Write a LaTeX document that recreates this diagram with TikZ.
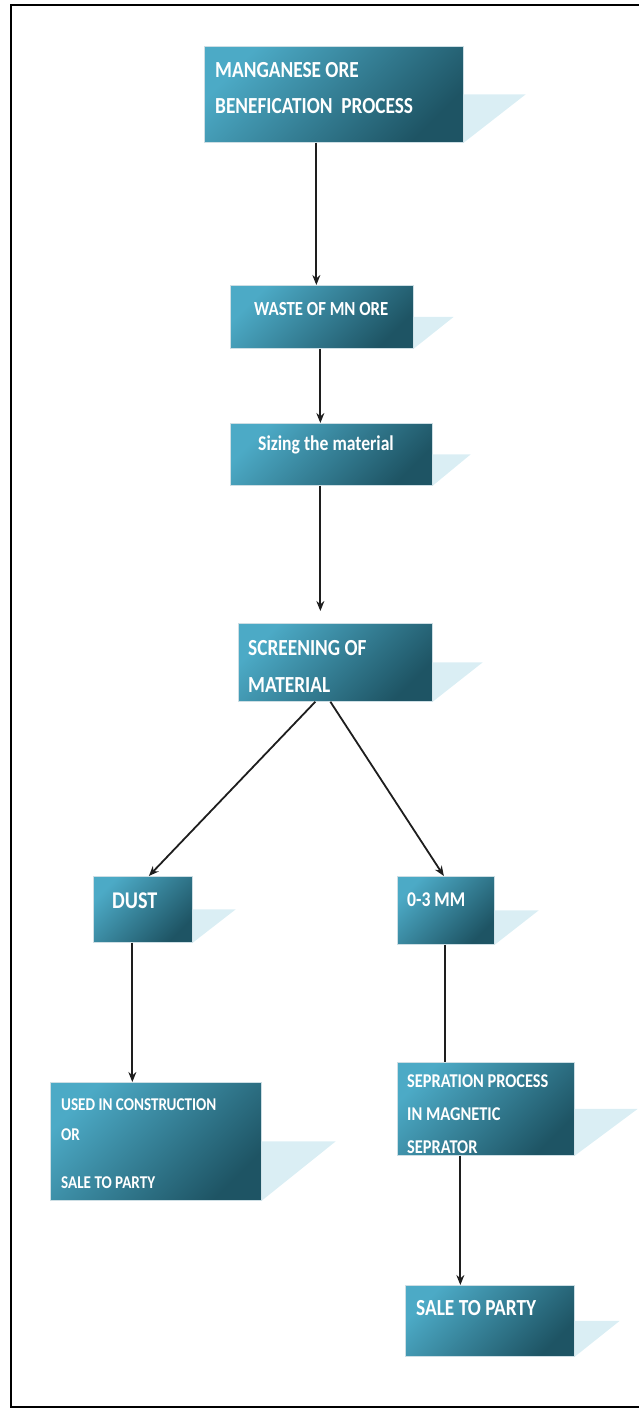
\documentclass[tikz,border=0pt]{standalone}
\usepackage{fontspec}
\usetikzlibrary{arrows.meta}
\newfontfamily\boxfont{Carlito}[FakeStretch=0.84]
\definecolor{boxlight}{RGB}{76,170,198}
\definecolor{boxdark}{RGB}{30,84,100}
\definecolor{boxedge}{RGB}{205,222,228}
\definecolor{shadowblue}{RGB}{218,238,244}
\definecolor{arrowgray}{RGB}{30,30,30}
\tikzset{
  procbox/.style={rectangle, draw=boxedge, line width=0.7pt, top color=boxlight, bottom color=boxdark, shading angle=45, anchor=north west, inner sep=0pt},
  boxtext/.style={text=white, anchor=base west, inner sep=0pt, align=left},
  flow/.style={-{Stealth[length=10pt,width=8pt]}, line width=1.8pt, draw=arrowgray},
  plainflow/.style={line width=1.8pt, draw=arrowgray}
}
\newcommand{\boxshadow}[2]{\fill[shadowblue] (#1.east) -- ++(#2,0) -- (#1.south east) -- cycle;}

\begin{document}
\begin{tikzpicture}[x=1pt,y=-1pt]
\useasboundingbox (0,0) rectangle (639,1408);
\draw[line width=1.4pt] (11,5) rectangle (645,1407);

% boxes
\node[procbox, minimum width=259pt, minimum height=96pt] (b1) at (204,46) {};
\node[procbox, minimum width=183pt, minimum height=63pt] (b2) at (230,285) {};
\node[procbox, minimum width=202pt, minimum height=62pt] (b3) at (230,423) {};
\node[procbox, minimum width=194pt, minimum height=78pt] (b4) at (238,623) {};
\node[procbox, minimum width=99pt, minimum height=66pt] (b5) at (93,876) {};
\node[procbox, minimum width=97pt, minimum height=68pt] (b6) at (397,876) {};
\node[procbox, minimum width=211pt, minimum height=118pt] (b7) at (50,1082) {};
\node[procbox, minimum width=177pt, minimum height=93pt] (b8) at (397,1062) {};
\node[procbox, minimum width=169pt, minimum height=71pt] (b9) at (405,1285) {};

\boxshadow{b1}{62}
\boxshadow{b2}{40}
\boxshadow{b3}{38}
\boxshadow{b4}{50}
\boxshadow{b5}{43}
\boxshadow{b6}{44}
\boxshadow{b7}{74}
\boxshadow{b8}{63}
\boxshadow{b9}{45}

% texts (base = last line)
\node[boxtext, font=\boxfont\bfseries\fontsize{23}{36}\selectfont] (t1) at (215,113) {MANGANESE ORE\\BENEFICATION~~PROCESS};
\node[boxtext, font=\boxfont\bfseries\fontsize{20}{24}\selectfont] (t2) at (254,315) {WASTE OF MN ORE};
\node[boxtext, font=\boxfont\bfseries\fontsize{21}{24}\selectfont] (t3) at (258,450) {Sizing the material};
\node[boxtext, font=\boxfont\bfseries\fontsize{23}{37}\selectfont] (t4) at (248,692) {SCREENING OF\\MATERIAL};
\node[boxtext, font=\boxfont\bfseries\fontsize{24}{24}\selectfont] (t5) at (112,908) {DUST};
\node[boxtext, font=\boxfont\bfseries\fontsize{21}{24}\selectfont] (t6) at (407,906) {0-3 MM};
\node[boxtext, font=\boxfont\bfseries\fontsize{18}{30}\selectfont] (t7) at (61,1188) {USED IN CONSTRUCTION\\OR\\[18pt]SALE TO PARTY};
\node[boxtext, font=\boxfont\bfseries\fontsize{19.5}{33}\selectfont] (t8) at (407,1153) {SEPRATION PROCESS\\IN MAGNETIC\\SEPRATOR};
\node[boxtext, font=\boxfont\bfseries\fontsize{23}{24}\selectfont] (t9) at (416,1315) {SALE TO PARTY};

% connectors
\draw[flow] ([xshift=-17.5pt]b1.south) -- ([xshift=-17.5pt]b1.south |- b2.north);
\draw[flow] ([xshift=-1.5pt]b2.south) -- ([xshift=-1.5pt]b2.south |- b3.north);
\draw[flow] ([xshift=-11pt]b3.south) -- ([xshift=-11pt,yshift=12pt]b3.south |- b4.north);
\draw[flow] ([xshift=-20pt]b4.south) -- ([xshift=6pt]b5.north);
\draw[flow] ([xshift=-5pt]b4.south) -- ([xshift=-2pt]b6.north);
\draw[flow] ([xshift=-10.5pt]b5.south) -- ([xshift=-10.5pt]b5.south |- b7.north);
\draw[plainflow] ([xshift=-1pt]b6.south) -- ([xshift=-1pt]b6.south |- b8.north);
\draw[flow] ([xshift=-25.5pt]b8.south) -- ([xshift=-25.5pt]b8.south |- b9.north);
\end{tikzpicture}
\end{document}
